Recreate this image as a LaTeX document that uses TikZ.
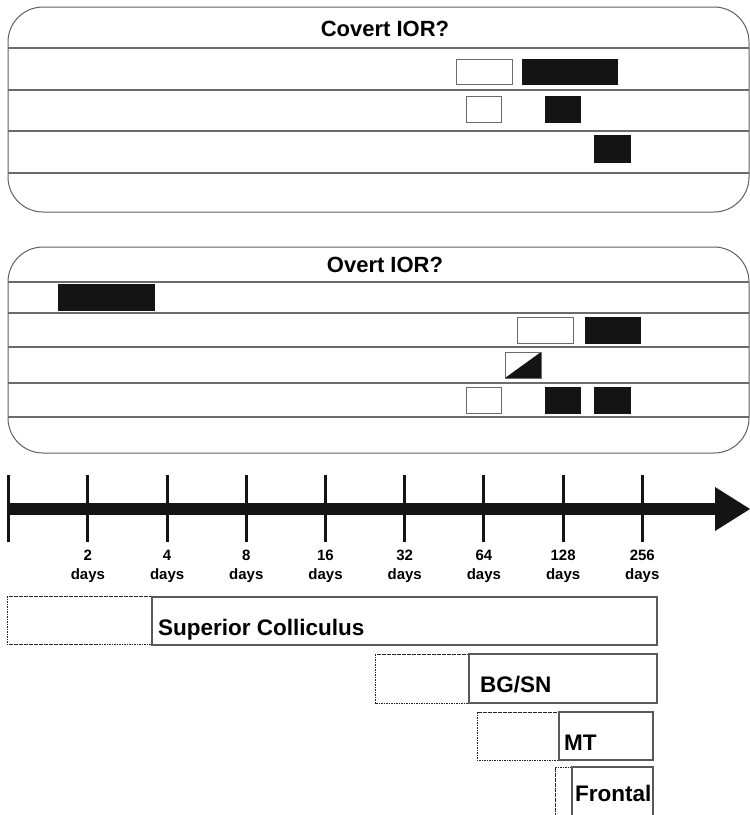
\documentclass[tikz,border=0pt]{standalone}
\usepackage{fontspec}
\setmainfont{Liberation Sans}
\begin{document}
\begin{tikzpicture}[x=1pt,y=-1pt,
  panel/.style={draw=black!62, line width=1pt, rounded corners=35pt},
  sep/.style={draw=black!58, line width=1.2pt},
  wbox/.style={draw=black!58, line width=1pt, fill=white},
  bbox/.style={fill=black!92, draw=black!92, line width=0.5pt},
  ttl/.style={font=\bfseries\fontsize{22}{24}\selectfont, inner sep=0pt},
  tickmark/.style={line width=3pt, draw=black!92},
  daylab/.style={font=\bfseries\fontsize{15}{17}\selectfont, inner sep=0pt},
  region/.style={draw=black!65, line width=1.3pt},
  prior/.style={draw=black!85, line width=0.9pt, dash pattern=on 1.6pt off 0.9pt},
  rlab/.style={font=\bfseries\fontsize{22.5}{25}\selectfont, anchor=base west, inner sep=0pt}
]
\useasboundingbox (0,0) rectangle (750,815);

% ---------- Covert panel ----------
\draw[panel] (8,7) rectangle (749,212);
\node[ttl] (covt) at (385,29) {Covert IOR?};
\foreach \yy in {48,90,131,173} \draw[sep] (8,\yy) -- (749,\yy);
\draw[wbox] (456,59) rectangle (512,84);
\draw[bbox] (522,59) rectangle (617,84);
\draw[wbox] (466,96) rectangle (501,122);
\draw[bbox] (545,96) rectangle (580,122);
\draw[bbox] (594,135) rectangle (630,162);

% ---------- Overt panel ----------
\draw[panel] (8,247) rectangle (749,453);
\node[ttl] (ovt) at (385,265) {Overt IOR?};
\foreach \yy in {282,313,347,383,417} \draw[sep] (8,\yy) -- (749,\yy);
\draw[bbox] (58,284) rectangle (154,310);
\draw[wbox] (517,317) rectangle (573,343);
\draw[bbox] (585,317) rectangle (640,343);
\fill[white] (505,352) rectangle (541,378);
\fill[black!92] (505,378) -- (541,352) -- (541,378) -- cycle;
\draw[draw=black!58, line width=1pt] (505,352) rectangle (541,378);
\draw[wbox] (466,387) rectangle (501,413);
\draw[bbox] (545,387) rectangle (580,413);
\draw[bbox] (594,387) rectangle (630,413);

% ---------- Time axis ----------
\coordinate (axl) at (8,509);
\coordinate (axr) at (716,509);
\draw[line width=12pt, draw=black!92] (axl) -- (axr);
\fill[black!92] (715,487) -- (750,509) -- (715,531) -- cycle;
\foreach \i/\lab in {0/,1/2,2/4,3/8,4/16,5/32,6/64,7/128,8/256}{
  \pgfmathsetmacro{\xx}{8.7+79.2*\i}
  \draw[tickmark] (\xx,475) -- (\xx,542);
  \ifnum\i>0
    \node[daylab] (n\i) at (\xx,555) {\lab};
    \node[daylab] (d\i) at (\xx,576) {days};
  \fi
}

% ---------- Brain regions ----------
\draw[prior] (7,596) rectangle (152,644);
\draw[region] (152,597) rectangle (657,645);
\node[rlab] (sc) at (158,635) {Superior Colliculus};

\draw[prior] (375,654) rectangle (469,703);
\draw[region] (469,654) rectangle (657,703);
\node[rlab] (bg) at (480,692) {BG/SN};

\draw[prior] (477,712) rectangle (559,760);
\draw[region] (559,712) rectangle (653,760);
\node[rlab] (mt) at (564,750) {MT};

\draw[prior] (555,817) -- (555,767) -- (572,767);
\draw[region] (572,817) -- (572,767) -- (653,767) -- (653,817);
\node[rlab] (fr) at (575,801) {Frontal};
\end{tikzpicture}
\end{document}
